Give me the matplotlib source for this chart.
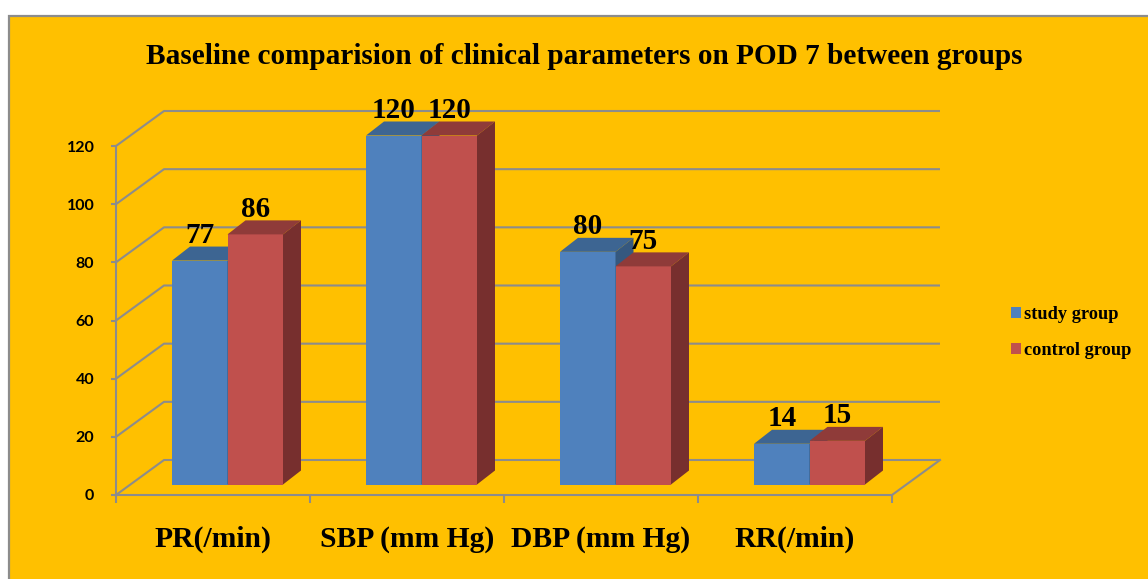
import numpy as np
import matplotlib
matplotlib.use('Agg')
import matplotlib.pyplot as plt
from matplotlib.patches import Polygon, Rectangle

categories = ['PR(/min)', 'SBP (mm Hg)', 'DBP (mm Hg)', 'RR(/min)']
study_group = [77, 120, 80, 14]
control_group = [86, 120, 75, 15]
y_ticks = [0, 20, 40, 60, 80, 100, 120]
title = 'Baseline comparision of clinical parameters on POD 7 between groups'

W, H = 1148, 579
AMBER = '#FFC000'
GREY = '#8C8C8C'

plt.rcParams['font.family'] = 'Liberation Serif'

fig = plt.figure(figsize=(W / 100, H / 100), dpi=100, facecolor='white')

# amber panel with grey frame, runs off the right and bottom edge
fig.add_artist(Rectangle((9 / W, -0.05), 1.1, 1.05 - 16 / H, transform=fig.transFigure,
                         facecolor=AMBER, edgecolor=GREY, linewidth=1.6, zorder=-5))

# axes = front plane of the fake 3d box
ax = fig.add_axes([116 / W, 1 - 495 / H, 776 / W, 349 / H])
ax.patch.set_visible(False)
ax.set_xlim(0, len(categories))
ax.set_ylim(0, 120)

px_x = 776 / len(categories)
px_y = 349 / 120

# depth of the box and of the bars, in data units
depth_x = 48 / px_x
depth_y = 35 / px_y
bar_dx = 18 / px_x
bar_dy = 14 / px_y
floor_y = 10.5 / px_y
bar_w = 55.5 / px_x
bar_shift = 56 / px_x

# back wall lines
for v in y_ticks:
    ax.plot([0, depth_x, len(categories) + depth_x], [v, v + depth_y, v + depth_y],
            color=GREY, lw=1.5, zorder=1, clip_on=False, solid_capstyle='butt')
ax.plot([len(categories), len(categories) + depth_x], [0, depth_y],
        color=GREY, lw=1.5, zorder=1, clip_on=False)

x = np.arange(len(categories))
left = x + bar_shift
mid = left + bar_w

def draw_bars(xs, values, face, top, side, z, name):
    bars = ax.bar(xs, values, bar_w, bottom=floor_y, align='edge', color=face,
                  zorder=z, clip_on=False, label=name)
    for x0, v in zip(xs, values):
        y1 = floor_y + v
        ax.add_patch(Polygon([(x0, y1), (x0 + bar_w, y1), (x0 + bar_w + bar_dx, y1 + bar_dy),
                              (x0 + bar_dx, y1 + bar_dy)], closed=True, facecolor=top,
                             edgecolor='none', zorder=z, clip_on=False))
        ax.add_patch(Polygon([(x0 + bar_w, floor_y), (x0 + bar_w + bar_dx, floor_y + bar_dy),
                              (x0 + bar_w + bar_dx, y1 + bar_dy), (x0 + bar_w, y1)], closed=True,
                             facecolor=side, edgecolor='none', zorder=z, clip_on=False))
        ax.annotate(str(v), (x0 + bar_w / 2, y1), xytext=(0, 18), textcoords='offset points',
                    ha='center', va='center', fontsize=21, fontweight='bold', color='black',
                    zorder=10, annotation_clip=False)
    return bars

draw_bars(left, study_group, '#4F81BD', '#3D6592', '#35587F', 3, 'study group')
draw_bars(mid, control_group, '#C0504D', '#8F3B39', '#772F2E', 4, 'control group')

# axes lines and ticks
for s in ['top', 'right']:
    ax.spines[s].set_visible(False)
for s in ['left', 'bottom']:
    ax.spines[s].set_color(GREY)
    ax.spines[s].set_linewidth(1.5)

ax.set_yticks(y_ticks)
ax.set_yticklabels(y_ticks, fontfamily='Lato', fontweight='bold', fontsize=11.5, color='black')
ax.tick_params(axis='y', length=3.6, width=1.5, color=GREY, pad=12)

ax.set_xticks(np.arange(len(categories) + 1))
ax.set_xticklabels([])
ax.tick_params(axis='x', length=6, width=1.5, color=GREY)
ax.set_xticks(x + 0.5, minor=True)
ax.set_xticklabels(categories, minor=True, fontsize=21.3, fontweight='bold', color='black')
ax.tick_params(axis='x', which='minor', length=0, pad=22)

fig.text(584 / W, 1 - 56 / H, title, ha='center', va='center', fontsize=21.05,
         fontweight='bold', color='black')

leg = ax.legend(loc='upper left', bbox_to_anchor=(1011 / W, 1 - 306 / H),
                bbox_transform=fig.transFigure, frameon=False, handlelength=0.55,
                handleheight=0.55, handletextpad=0.16, labelspacing=1.03,
                borderpad=0, borderaxespad=0,
                prop={'family': 'Liberation Serif', 'weight': 'bold', 'size': 13.2})

fig.savefig('out.png', dpi=100, facecolor=fig.get_facecolor())
